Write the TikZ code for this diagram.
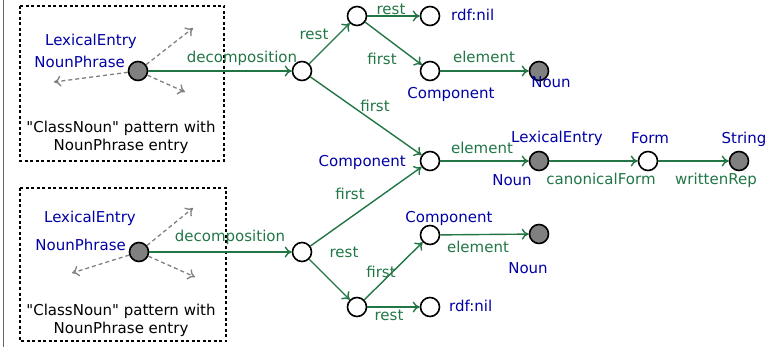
\documentclass[tikz,border=0pt]{standalone}
\usepackage{fontspec}
\setmainfont{DejaVu Sans}[Ligatures=TeXOff]
\usetikzlibrary{arrows.meta}
\definecolor{relgreen}{RGB}{34,118,70}
\definecolor{clsblue}{RGB}{0,0,165}
\definecolor{litgray}{RGB}{128,128,128}
\tikzset{
  res/.style={circle,draw=black,line width=1.6pt,fill=white,minimum size=19pt,inner sep=0pt},
  lit/.style={res,fill=litgray},
  rel/.style={-{To[length=7pt,width=11pt]},draw=relgreen,line width=1.4pt},
  ghost/.style={-{To[length=7pt,width=11pt]},draw=litgray,line width=1.3pt,dash pattern=on 4pt off 3pt},
  patbox/.style={draw=black,line width=1.3pt,dash pattern=on 3pt off 2.5pt},
  rlbl/.style={text=relgreen,inner sep=0pt,anchor=base},
  clbl/.style={text=clsblue,inner sep=0pt,anchor=base},
}
\begin{document}
\begin{tikzpicture}[x=1pt,y=-1pt,every node/.style={font=\fontsize{15}{18}\selectfont}]
\useasboundingbox (0,0) rectangle (776,347);
\draw[black!60,line width=1pt] (3,0) -- (3,347);
% pattern boxes
\draw[patbox] (20,6) rectangle (224,161);
\draw[patbox] (20,188) rectangle (226,341);
\node[align=center,inner sep=0pt] (patA) at (121,137) {"ClassNoun" pattern with\\NounPhrase entry};
\node[align=center,inner sep=0pt] (patB) at (121,320) {"ClassNoun" pattern with\\NounPhrase entry};
% resources
\node[lit] (npA) at (138,71) {};
\node[lit] (npB) at (139,252) {};
\node[res] (lstA) at (302,71) {};
\node[res] (lstA2) at (357,16) {};
\node[res] (nilA) at (430,16) {};
\node[res] (compA) at (430,71) {};
\node[lit] (nounA) at (539,71) {};
\node[res] (compN) at (430,161) {};
\node[lit] (entN) at (539,161) {};
\node[res] (form) at (648,161) {};
\node[lit] (str) at (739,161) {};
\node[res] (lstB) at (302,252) {};
\node[res] (lstB2) at (357,307) {};
\node[res] (nilB) at (430,307) {};
\node[res] (compB) at (430,235) {};
\node[lit] (nounB) at (539,234) {};
% class labels
\node[clbl] (leA) at (91,46) {LexicalEntry};
\node[clbl,anchor=base east] (phA) at (125,68) {NounPhrase};
\node[clbl] (leB) at (90,223) {LexicalEntry};
\node[clbl,anchor=base east] (phB) at (126,251) {NounPhrase};
\node[clbl,anchor=base west] (rdfA) at (451,21) {rdf:nil};
\node[clbl] (cmpA) at (451,99) {Component};
\node[clbl] (nA) at (551,88) {Noun};
\node[clbl,anchor=base east] (cmpN) at (406,167) {Component};
\node[clbl] (leN) at (557,143) {LexicalEntry};
\node[clbl] (nN) at (512,186) {Noun};
\node[clbl] (frm) at (650,144) {Form};
\node[clbl] (strg) at (744,144) {String};
\node[clbl] (cmpB) at (449,223) {Component};
\node[clbl,anchor=base west] (rdfB) at (449,312) {rdf:nil};
\node[clbl] (nB) at (528,274) {Noun};
% property labels
\node[rlbl] (decA) at (242,63) {decomposition};
\node[rlbl] (rstA) at (314,40) {rest};
\node[rlbl] (rstA2) at (391,15) {rest};
\node[rlbl] (fstA2) at (382,65) {first};
\node[rlbl] (fstA) at (375,112) {first};
\node[rlbl] (elA) at (484,63) {element};
\node[rlbl] (elN) at (482,154) {element};
\node[rlbl] (canF) at (601,185) {canonicalForm};
\node[rlbl] (wRep) at (716,185) {writtenRep};
\node[rlbl] (decB) at (230,242) {decomposition};
\node[rlbl] (fstB) at (350,200) {first};
\node[rlbl] (rstB) at (344,258) {rest};
\node[rlbl] (fstB2) at (381,277) {first};
\node[rlbl] (rstB2) at (389,320) {rest};
\node[rlbl] (elB) at (478,253) {element};
% connectors
\draw[rel] (npA) -- (lstA);
\draw[rel] (lstA) -- (lstA2);
\draw[rel] (lstA2) -- (nilA);
\draw[rel] (lstA2) -- (compA);
\draw[rel] (compA) -- (nounA);
\draw[rel] (lstA) -- (compN);
\draw[rel] (compN) -- (entN);
\draw[rel] (entN) -- (form);
\draw[rel] (form) -- (str);
\draw[rel] (npB) -- (lstB);
\draw[rel] (lstB) -- (compN);
\draw[rel] (lstB) -- (lstB2);
\draw[rel] (lstB2) -- (nilB);
\draw[rel] (lstB2) -- (compB);
\draw[rel] (compB) -- (nounB);
% other properties of the pattern entry
\coordinate (gA1) at (193,28);
\coordinate (gA2) at (54,82);
\coordinate (gA3) at (185,92);
\coordinate (gB1) at (193,208);
\coordinate (gB2) at (72,273);
\coordinate (gB3) at (195,277);
\foreach \g in {gA1,gA2,gA3} \draw[ghost] (npA) -- (\g);
\foreach \g in {gB1,gB2,gB3} \draw[ghost] (npB) -- (\g);
\end{tikzpicture}
\end{document}
